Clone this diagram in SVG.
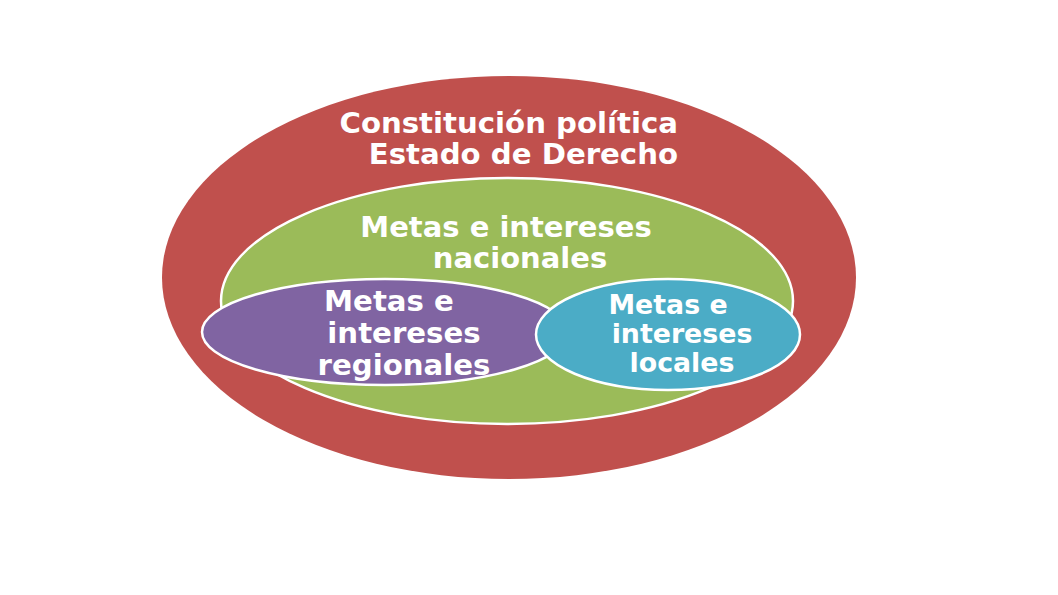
<svg xmlns="http://www.w3.org/2000/svg" width="1058" height="595" viewBox="0 0 1058 595">
<style>
.t{font-family:"DejaVu Sans","Liberation Sans",sans-serif;font-weight:bold;fill:#fff}
.e{stroke:#fff;stroke-width:2.5}
</style>
<rect width="1058" height="595" fill="#fff"/>
<g id="estado">
<ellipse cx="509" cy="277.5" rx="347" ry="201.5" fill="#C0504D"/>
<text class="t" font-size="29.2" text-anchor="end"><tspan x="678" y="133">Constitución política</tspan><tspan x="678" y="164">Estado de Derecho</tspan></text>
</g>
<g id="nacional">
<ellipse class="e" cx="507" cy="301" rx="286" ry="123" fill="#9BBB59"/>
<text class="t" font-size="29" text-anchor="middle"><tspan x="506" y="237">Metas e intereses</tspan><tspan x="520" y="268">nacionales</tspan></text>
</g>
<g id="regional">
<ellipse class="e" cx="385" cy="332" rx="183" ry="53" fill="#8064A2"/>
<text class="t" font-size="29.2" text-anchor="middle"><tspan x="389" y="311">Metas e</tspan><tspan x="404" y="343">intereses</tspan><tspan x="404" y="375">regionales</tspan></text>
</g>
<g id="local">
<ellipse class="e" cx="668" cy="334.5" rx="132" ry="55.5" fill="#4BACC6"/>
<text class="t" font-size="26.8" text-anchor="middle"><tspan x="668" y="314">Metas e</tspan><tspan x="682" y="343">intereses</tspan><tspan x="682" y="372">locales</tspan></text>
</g>
<g id="connectors"/>
</svg>
